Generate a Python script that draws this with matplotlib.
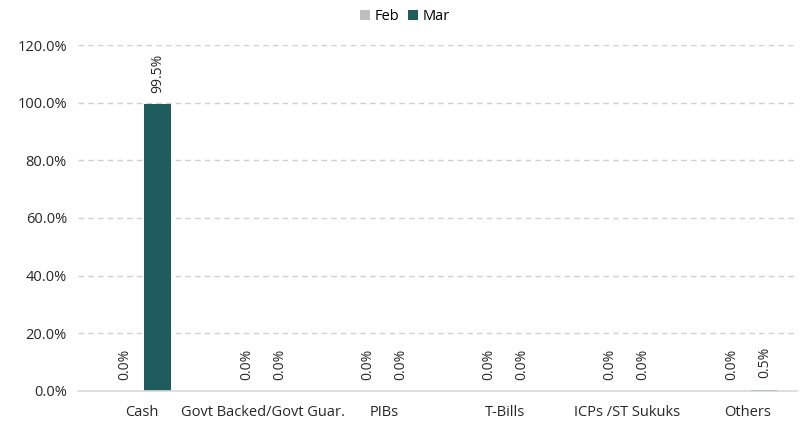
import matplotlib.pyplot as plt
import numpy as np

# Portfolio allocation, % of total assets
categories = ['Cash', 'Govt Backed/Govt Guar.', 'PIBs', 'T-Bills', 'ICPs /ST Sukuks', 'Others']
feb = [0.0, 0.0, 0.0, 0.0, 0.0, 0.0]
mar = [99.5, 0.0, 0.0, 0.0, 0.0, 0.5]

plt.rcParams['font.family'] = ['Open Sans', 'DejaVu Sans']

fig = plt.figure(figsize=(8.1, 4.23), dpi=100)
ax = fig.add_axes([0.0963, 0.0757, 0.8877, 0.8179])

x = np.arange(len(categories))
w = 0.223
off = 0.136
b1 = ax.bar(x - off, feb, w, color='#BFBFBF', label='Feb')
b2 = ax.bar(x + off, mar, w, color='#1F5C5E', label='Mar')

for bars, vals in ((b1, feb), (b2, mar)):
    for bar, v in zip(bars, vals):
        ax.annotate(f'{v:.1f}%', (bar.get_x() + bar.get_width() / 2, v),
                    xytext=(0, 8), textcoords='offset points',
                    rotation=90, ha='center', va='bottom', fontsize=10, color='#262626')

ax.set_ylim(0, 120)
ax.set_xlim(-0.523, 5.404)
ax.set_yticks(np.arange(0, 121, 20))
ax.set_yticklabels([f'{t:.1f}%' for t in np.arange(0, 121, 20)])
ax.set_xticks(x)
ax.set_xticklabels(categories)
ax.tick_params(axis='both', length=0, labelsize=10.5, colors='#262626')
ax.tick_params(axis='x', pad=10)
ax.tick_params(axis='y', pad=8)

ax.yaxis.grid(True, linestyle=(0, (4, 3)), color='#D0D0D0', linewidth=1)
ax.set_axisbelow(True)
for s in ('top', 'right', 'left'):
    ax.spines[s].set_visible(False)
ax.spines['bottom'].set_color('#D9D9D9')
ax.spines['bottom'].set_linewidth(1.2)

fig.legend(loc='upper center', bbox_to_anchor=(0.5, 1.01), ncol=2, frameon=False,
           fontsize=10.5, handlelength=0.7, handleheight=0.7, handletextpad=0.3,
           columnspacing=0.6)

fig.savefig('out.png', dpi=100)
